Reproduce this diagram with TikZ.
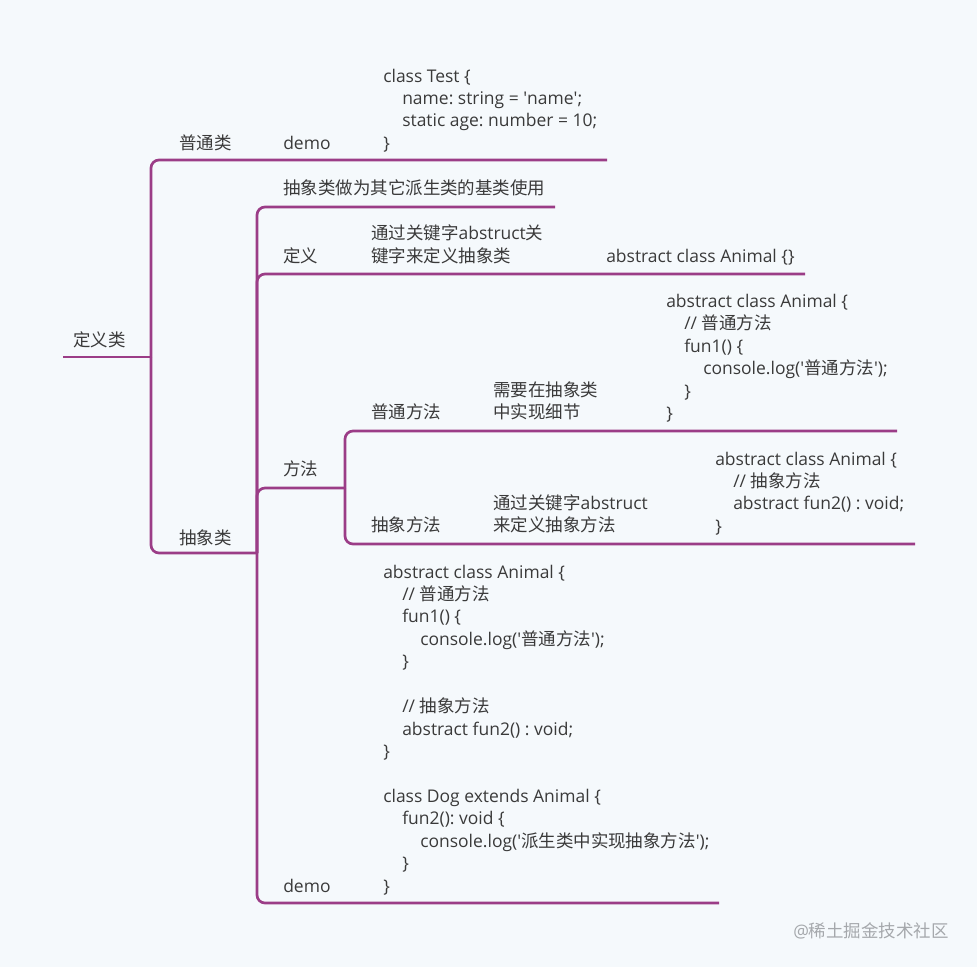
\documentclass[tikz,border=0pt]{standalone}
\usepackage{fontspec}
\setmainfont{Open Sans}
\newfontfamily\cjk{Noto Sans CJK SC}
\newcommand\zh[1]{{\cjk #1}}
\newcommand\sq{\textquotesingle}
\definecolor{bgc}{HTML}{F5F9FC}
\definecolor{brc}{HTML}{9B3D87}
\definecolor{txc}{HTML}{3A3A3A}
\definecolor{wmc}{HTML}{A5A8AC}
\frenchspacing
\begin{document}
\begin{tikzpicture}[x=0.75pt,y=-0.75pt,
  t/.style={anchor=base west, inner sep=0pt, text=txc, font=\fontsize{13.1}{16}\selectfont\frenchspacing},
  branch/.style={draw=brc, line width=2pt, rounded corners=6pt}]
\fill[bgc] (0,0) rectangle (977,967);
\useasboundingbox (0,0) rectangle (977,967);

% junctions and ends
\coordinate (rootL) at (63,357);
\coordinate (J1) at (151,357);
\coordinate (E1) at (607,160);
\coordinate (J2) at (257,553);
\coordinate (E21) at (555,207);
\coordinate (E22) at (805,274);
\coordinate (J3) at (345,488);
\coordinate (E31) at (897,431);
\coordinate (E32) at (915,544);
\coordinate (E24) at (719,903);

\draw[branch] (rootL) -- (J1);
\draw[branch] (J1) |- (E1);
\draw[branch] (J1) |- (J2);
\draw[branch] (J2) |- (E21);
\draw[branch] (J2) |- (E22);
\draw[branch] (J2) |- (J3);
\draw[branch] (J2) |- (E24);
\draw[branch] (J3) |- (E31);
\draw[branch] (J3) |- (E32);

% root
\node[t] (root) at (73,346) {\zh{定义类}};

% 普通类
\node[t] (putong) at (179,149) {\zh{普通类}};
\node[t] (demo1) at (283,149) {demo};
\node[t] (c1a) at (383,82) {class Test \{};
\node[t] (c1b) at (402,104.4) {name: string = \sq name\sq;};
\node[t] (c1c) at (402,126.8) {static age: number = 10;};
\node[t] (c1d) at (383,149.2) {\}};

% 抽象类
\node[t] (chouxiang) at (179,544) {\zh{抽象类}};
\node[t] (jilei) at (283,194) {\zh{抽象类做为其它派生类的基类使用}};

\node[t] (dingyi) at (283,262) {\zh{定义}};
\node[t] (dy1) at (371,239.6) {\zh{通过关键字}abstruct\zh{关}};
\node[t] (dy2) at (371,262) {\zh{键字来定义抽象类}};
\node[t] (dy3) at (606,262) {abstract class Animal \{\}};

\node[t] (fangfa) at (283,475) {\zh{方法}};

\node[t] (ptff) at (371,418) {\zh{普通方法}};
\node[t] (pt1) at (493,396) {\zh{需要在抽象类}};
\node[t] (pt2) at (493,418) {\zh{中实现细节}};
\node[t] (p1) at (666,307.5) {abstract class Animal \{};
\node[t] (p2) at (684,329.9) {// \zh{普通方法}};
\node[t] (p3) at (684,352.3) {fun1() \{};
\node[t] (p4) at (703,374.7) {console.log(\sq\zh{普通方法}\sq);};
\node[t] (p5) at (684,397.1) {\}};
\node[t] (p6) at (666,419.5) {\}};

\node[t] (cxff) at (371,531) {\zh{抽象方法}};
\node[t] (cx1) at (493,509) {\zh{通过关键字}abstruct};
\node[t] (cx2) at (493,531) {\zh{来定义抽象方法}};
\node[t] (a1) at (715,465) {abstract class Animal \{};
\node[t] (a2) at (733,487.4) {// \zh{抽象方法}};
\node[t] (a3) at (733,509.8) {abstract fun2() : void;};
\node[t] (a4) at (715,532.2) {\}};

% demo
\node[t] (demo2) at (283,892) {demo};
\node[t] (d0) at (383,578) {abstract class Animal \{};
\node[t] (d1) at (402,600.4) {// \zh{普通方法}};
\node[t] (d2) at (402,622.9) {fun1() \{};
\node[t] (d3) at (420,645.3) {console.log(\sq\zh{普通方法}\sq);};
\node[t] (d4) at (402,667.7) {\}};
\node[t] (d6) at (402,712.6) {// \zh{抽象方法}};
\node[t] (d7) at (402,735) {abstract fun2() : void;};
\node[t] (d8) at (383,757.4) {\}};
\node[t] (d10) at (383,802.3) {class Dog extends Animal \{};
\node[t] (d11) at (402,824.7) {fun2(): void \{};
\node[t] (d12) at (420,847.2) {console.log(\sq\zh{派生类中实现抽象方法}\sq);};
\node[t] (d13) at (402,869.6) {\}};
\node[t] (d14) at (383,892) {\}};

% watermark
\node[t, text=wmc] (wm) at (793,937) {@\zh{稀土掘金技术社区}};
\end{tikzpicture}
\end{document}
